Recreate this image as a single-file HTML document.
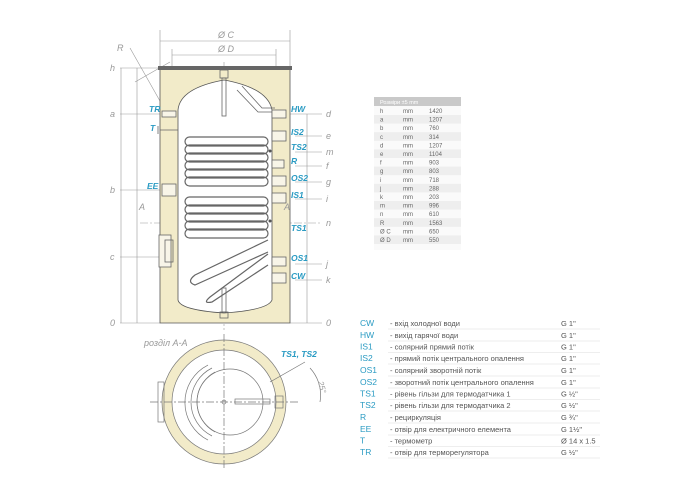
<!DOCTYPE html>
<html><head><meta charset="utf-8"><style>
body{margin:0;background:#fff;width:700px;height:500px;overflow:hidden;font-family:"Liberation Sans","DejaVu Sans",sans-serif}
svg{position:absolute;left:0;top:0}
</style></head><body>
<svg width="700" height="500" viewBox="0 0 700 500" font-family="Liberation Sans, sans-serif">
<g stroke="#999" stroke-width="0.6" fill="none">
<line x1="160" y1="30" x2="160" y2="66"/><line x1="290" y1="30" x2="290" y2="66"/>
<line x1="160" y1="41" x2="290" y2="41"/>
<line x1="172" y1="49" x2="172" y2="80"/><line x1="276" y1="49" x2="276" y2="80"/>
<line x1="172" y1="55" x2="276" y2="55"/>
<line x1="130" y1="48" x2="285" y2="322"/>
<line x1="135" y1="82" x2="170" y2="62"/>
<line x1="120" y1="68" x2="160" y2="68"/><line x1="120" y1="114" x2="178" y2="114"/>
<line x1="120" y1="190" x2="178" y2="190"/><line x1="120" y1="257" x2="178" y2="257"/>
<line x1="120" y1="323" x2="160" y2="323"/>
<line x1="121" y1="68" x2="121" y2="323"/><line x1="137" y1="68" x2="137" y2="323"/>
<line x1="290" y1="114" x2="322" y2="114"/><line x1="295" y1="136" x2="322" y2="136"/>
<line x1="295" y1="152" x2="322" y2="152"/><line x1="295" y1="166" x2="322" y2="166"/>
<line x1="295" y1="182" x2="322" y2="182"/><line x1="295" y1="199" x2="322" y2="199"/>
<line x1="295" y1="264" x2="322" y2="264"/><line x1="295" y1="280" x2="322" y2="280"/>
<line x1="290" y1="323" x2="322" y2="323"/>
<line x1="307" y1="114" x2="307" y2="323"/>
<line x1="140" y1="223" x2="322" y2="223" stroke-dasharray="8 2 2 2"/>
<line x1="224" y1="62" x2="224" y2="330" stroke-dasharray="8 2 2 2"/>
</g>
<path d="M160 68 H290 V323 H160 Z" fill="#f2ebc9" stroke="#555" stroke-width="0.8"/>
<path d="M158 66 H292 V70 H158 Z" fill="#666"/>
<path d="M178 110 Q180 88 224 80 Q268 88 272 110 V300 Q268 310 224 313 Q180 310 178 300 Z" fill="#fff" stroke="#555" stroke-width="0.8"/>
<g fill="none" stroke="#666" stroke-width="0.8">
<rect x="220" y="70" width="8" height="8"/><rect x="222" y="78" width="4" height="38"/>
<rect x="222" y="288" width="4" height="24"/><rect x="220" y="312" width="8" height="6"/>
<path d="M237 90 L258 112 H275 M242 86 L262 108 H275"/>
<g stroke-width="1.2">
<rect x="185" y="137" width="83" height="9" rx="4.5"/><rect x="185" y="145" width="83" height="9" rx="4.5"/>
<rect x="185" y="153" width="83" height="9" rx="4.5"/><rect x="185" y="161" width="83" height="9" rx="4.5"/>
<rect x="185" y="169" width="83" height="9" rx="4.5"/><rect x="185" y="177" width="83" height="9" rx="4.5"/>
<rect x="185" y="197" width="83" height="9" rx="4.5"/><rect x="185" y="205" width="83" height="9" rx="4.5"/>
<rect x="185" y="213" width="83" height="9" rx="4.5"/><rect x="185" y="221" width="83" height="9" rx="4.5"/>
<rect x="185" y="229" width="83" height="9" rx="4.5"/>
<path d="M268 240 L195 275 Q186 282 195 285 L268 252"/>
<path d="M268 254 L210 297 Q202 304 212 302 L268 265"/>
</g>
<rect x="272" y="110" width="14" height="8" fill="#f8f5e8"/><rect x="272" y="131" width="14" height="10" fill="#f8f5e8"/>
<rect x="272" y="160" width="12" height="8" fill="#f8f5e8"/><rect x="272" y="176" width="14" height="10" fill="#f8f5e8"/>
<rect x="272" y="193" width="14" height="10" fill="#f8f5e8"/><rect x="272" y="257" width="14" height="9" fill="#f8f5e8"/>
<rect x="272" y="273" width="14" height="10" fill="#f8f5e8"/>
<rect x="162" y="111" width="14" height="6" fill="#f8f5e8"/><rect x="162" y="184" width="14" height="12" fill="#f8f5e8"/>
<rect x="159" y="235" width="12" height="32" fill="#f8f5e8"/><rect x="165" y="240" width="8" height="22"/>
<path d="M160 130 H178 M158 126 V134"/>
</g>
<circle cx="270" cy="151" r="1.5" fill="#555"/><circle cx="270" cy="221" r="1.5" fill="#555"/>
<g font-size="9" fill="#999" font-style="italic">
<text x="218" y="38">Ø C</text><text x="218" y="52">Ø D</text><text x="117" y="51">R</text>
<text x="110" y="71">h</text><text x="110" y="117">a</text><text x="110" y="193">b</text><text x="110" y="260">c</text><text x="110" y="326">0</text>
<text x="326" y="117">d</text><text x="326" y="139">e</text><text x="326" y="155">m</text><text x="326" y="169">f</text>
<text x="326" y="185">g</text><text x="326" y="202">i</text><text x="326" y="226">n</text><text x="326" y="267">j</text>
<text x="326" y="283">k</text><text x="326" y="326">0</text>
<text x="139" y="210">A</text><text x="284" y="210">A</text>
<text x="144" y="346">розділ A-A</text>
</g>
<g font-size="8.5" fill="#2a9bc3" font-weight="bold" font-style="italic">
<text x="149" y="112">TR</text><text x="150" y="131">T</text><text x="147" y="189">EE</text>
<text x="291" y="112">HW</text><text x="291" y="135">IS2</text><text x="291" y="150">TS2</text>
<text x="291" y="164">R</text><text x="291" y="181">OS2</text><text x="291" y="198">IS1</text>
<text x="291" y="231">TS1</text><text x="291" y="261">OS1</text><text x="291" y="279">CW</text>
<text x="281" y="357">TS1, TS2</text>
</g>
<g stroke="#777" stroke-width="0.7" fill="none">
<circle cx="224" cy="402" r="62" fill="#f2ebc9"/>
<circle cx="224" cy="402" r="52" fill="#fff"/>
<circle cx="230" cy="402" r="33"/>
<path d="M215 372 A34 34 0 0 0 215 432 M212 368 A38 38 0 0 0 212 436 M208 365 A42 42 0 0 0 208 440"/>
<line x1="150" y1="402" x2="300" y2="402" stroke-dasharray="8 2 2 2"/>
<line x1="224" y1="334" x2="224" y2="470" stroke-dasharray="8 2 2 2"/>
<rect x="158" y="382" width="6" height="40"/>
<rect x="235" y="399" width="35" height="5"/>
<circle cx="224" cy="402" r="2"/>
<path d="M270 382 L305 362 M310 368 A40 40 0 0 1 320 402"/>
<rect x="275" y="396" width="8" height="12"/>
</g>
<text x="318" y="382" font-size="8" fill="#999" font-style="italic" transform="rotate(75 318 382)">25°</text>
<rect x="374" y="97" width="87" height="9" fill="#c9c9c9"/>
<text x="380" y="104" font-size="5.5" fill="#fff">Розміри ±5 mm</text>
<rect x="374" y="106" width="87" height="144" fill="#fafafa"/>
<g fill="#eeeeee">
<rect x="374" y="115" width="87" height="8.6"/><rect x="374" y="132.2" width="87" height="8.6"/>
<rect x="374" y="149.4" width="87" height="8.6"/><rect x="374" y="166.6" width="87" height="8.6"/>
<rect x="374" y="183.8" width="87" height="8.6"/><rect x="374" y="201" width="87" height="8.6"/>
<rect x="374" y="218.2" width="87" height="8.6"/><rect x="374" y="235.4" width="87" height="8.6"/>
</g>
<g font-size="6" fill="#666">
<text x="380" y="113">h</text><text x="403" y="113">mm</text><text x="429" y="113">1420</text>
<text x="380" y="121.6">a</text><text x="403" y="121.6">mm</text><text x="429" y="121.6">1207</text>
<text x="380" y="130.2">b</text><text x="403" y="130.2">mm</text><text x="429" y="130.2">760</text>
<text x="380" y="138.8">c</text><text x="403" y="138.8">mm</text><text x="429" y="138.8">314</text>
<text x="380" y="147.4">d</text><text x="403" y="147.4">mm</text><text x="429" y="147.4">1207</text>
<text x="380" y="156">e</text><text x="403" y="156">mm</text><text x="429" y="156">1104</text>
<text x="380" y="164.6">f</text><text x="403" y="164.6">mm</text><text x="429" y="164.6">903</text>
<text x="380" y="173.2">g</text><text x="403" y="173.2">mm</text><text x="429" y="173.2">803</text>
<text x="380" y="181.8">i</text><text x="403" y="181.8">mm</text><text x="429" y="181.8">718</text>
<text x="380" y="190.4">j</text><text x="403" y="190.4">mm</text><text x="429" y="190.4">288</text>
<text x="380" y="199">k</text><text x="403" y="199">mm</text><text x="429" y="199">203</text>
<text x="380" y="207.6">m</text><text x="403" y="207.6">mm</text><text x="429" y="207.6">996</text>
<text x="380" y="216.2">n</text><text x="403" y="216.2">mm</text><text x="429" y="216.2">610</text>
<text x="380" y="224.8">R</text><text x="403" y="224.8">mm</text><text x="429" y="224.8">1563</text>
<text x="380" y="233.4">Ø C</text><text x="403" y="233.4">mm</text><text x="429" y="233.4">650</text>
<text x="380" y="242">Ø D</text><text x="403" y="242">mm</text><text x="429" y="242">550</text>
</g>
<g font-size="7.5" fill="#555">
<g fill="#2a9bc3" font-size="8.5">
<text x="360" y="326">CW</text><text x="360" y="338">HW</text><text x="360" y="349.5">IS1</text><text x="360" y="361">IS2</text>
<text x="360" y="373">OS1</text><text x="360" y="385">OS2</text><text x="360" y="396.5">TS1</text><text x="360" y="408">TS2</text>
<text x="360" y="420">R</text><text x="360" y="432">EE</text><text x="360" y="443.5">T</text><text x="360" y="455">TR</text>
</g>
<text x="390" y="326">- вхід холодної води</text><text x="390" y="338">- вихід гарячої води</text>
<text x="390" y="349.5">- солярний прямий потік</text><text x="390" y="361">- прямий потік центрального опалення</text>
<text x="390" y="373">- солярний зворотній потік</text><text x="390" y="385">- зворотний потік центрального опалення</text>
<text x="390" y="396.5">- рівень гільзи для термодатчика 1</text><text x="390" y="408">- рівень гільзи для термодатчика 2</text>
<text x="390" y="420">- рециркуляція</text><text x="390" y="432">- отвір для електричного елемента</text>
<text x="390" y="443.5">- термометр</text><text x="390" y="455">- отвір для терморегулятора</text>
<text x="561" y="326">G 1"</text><text x="561" y="338">G 1"</text><text x="561" y="349.5">G 1"</text><text x="561" y="361">G 1"</text>
<text x="561" y="373">G 1"</text><text x="561" y="385">G 1"</text><text x="561" y="396.5">G ½"</text><text x="561" y="408">G ½"</text>
<text x="561" y="420">G ¾"</text><text x="561" y="432">G 1½"</text><text x="561" y="443.5">Ø 14 x 1.5</text><text x="561" y="455">G ½"</text>
</g>
<g stroke="#ddd" stroke-width="0.5">
<line x1="388" y1="329" x2="600" y2="329"/><line x1="388" y1="341" x2="600" y2="341"/><line x1="388" y1="352.5" x2="600" y2="352.5"/>
<line x1="388" y1="364" x2="600" y2="364"/><line x1="388" y1="376" x2="600" y2="376"/><line x1="388" y1="388" x2="600" y2="388"/>
<line x1="388" y1="399.5" x2="600" y2="399.5"/><line x1="388" y1="411" x2="600" y2="411"/><line x1="388" y1="423" x2="600" y2="423"/>
<line x1="388" y1="435" x2="600" y2="435"/><line x1="388" y1="446.5" x2="600" y2="446.5"/><line x1="388" y1="458" x2="600" y2="458"/>
</g>
</svg>
</body></html>
